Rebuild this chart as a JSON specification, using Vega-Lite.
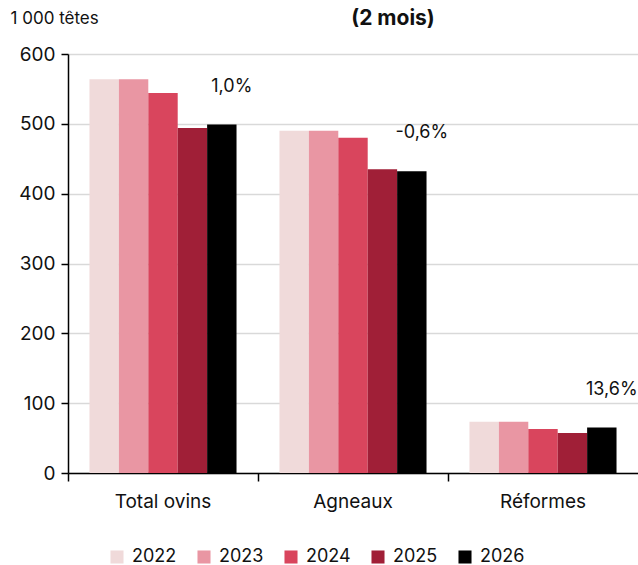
{
  "$schema": "https://vega.github.io/schema/vega-lite/v6.json",
  "width": 570,
  "height": 419,
  "autosize": {"type": "none"},
  "padding": {"left": 68, "top": 54, "right": 0, "bottom": 92},
  "background": "white",
  "config": {
    "font": "Inter",
    "view": {"stroke": null},
    "axis": {"labelFont": "Inter", "titleFont": "Inter"}
  },
  "title": {
    "text": "(2 mois)",
    "font": "Inter",
    "fontSize": 21,
    "fontWeight": "bold",
    "color": "#111111",
    "anchor": "middle",
    "dx": 40,
    "offset": -20
  },
  "data": {
    "values": [
      {"cat": "Total ovins", "year": "2022", "value": 564},
      {"cat": "Total ovins", "year": "2023", "value": 564},
      {"cat": "Total ovins", "year": "2024", "value": 544},
      {"cat": "Total ovins", "year": "2025", "value": 494},
      {"cat": "Total ovins", "year": "2026", "value": 499, "change": "1,0%"},
      {"cat": "Agneaux", "year": "2022", "value": 490},
      {"cat": "Agneaux", "year": "2023", "value": 490},
      {"cat": "Agneaux", "year": "2024", "value": 480},
      {"cat": "Agneaux", "year": "2025", "value": 435},
      {"cat": "Agneaux", "year": "2026", "value": 432, "change": "-0,6%"},
      {"cat": "Réformes", "year": "2022", "value": 73.5},
      {"cat": "Réformes", "year": "2023", "value": 73.5},
      {"cat": "Réformes", "year": "2024", "value": 63},
      {"cat": "Réformes", "year": "2025", "value": 57.3},
      {"cat": "Réformes", "year": "2026", "value": 65, "change": "13,6%"}
    ]
  },
  "encoding": {
    "x": {
      "field": "cat",
      "type": "nominal",
      "sort": ["Total ovins", "Agneaux", "Réformes"],
      "scale": {"paddingInner": 0, "paddingOuter": 0},
      "axis": {
        "title": null,
        "labelAngle": 0,
        "labelFontSize": 19,
        "labelColor": "#111111",
        "labelPadding": 11,
        "bandPosition": 0,
        "tickSize": 8,
        "tickColor": "#000000",
        "domainColor": "#000000",
        "domainWidth": 1.5,
        "tickWidth": 1.5
      }
    },
    "xOffset": {
      "field": "year",
      "type": "nominal",
      "scale": {"paddingInner": 0, "paddingOuter": 0.73}
    },
    "y": {
      "field": "value",
      "type": "quantitative",
      "scale": {"domain": [0, 600]},
      "axis": {
        "values": [0, 100, 200, 300, 400, 500, 600],
        "title": "1 000 têtes",
        "titleAngle": 0,
        "titleX": -58,
        "titleY": -36,
        "titleAlign": "left",
        "titleBaseline": "middle",
        "titleFontSize": 17,
        "titleFontWeight": "normal",
        "titleColor": "#111111",
        "labelFontSize": 19,
        "labelColor": "#111111",
        "labelPadding": 6,
        "tickSize": 7,
        "tickColor": "#000000",
        "tickWidth": 1.5,
        "domainColor": "#000000",
        "domainWidth": 1.5,
        "grid": true,
        "gridColor": "#d9d9d9",
        "gridWidth": 1.5
      }
    }
  },
  "layer": [
    {
      "mark": {"type": "bar"},
      "encoding": {
        "color": {
          "field": "year",
          "type": "nominal",
          "scale": {
            "domain": ["2022", "2023", "2024", "2025", "2026"],
            "range": ["#f0dada", "#e996a3", "#d9455d", "#a01f37", "#000000"]
          },
          "legend": {
            "title": null,
            "orient": "none",
            "direction": "horizontal",
            "legendX": 40,
            "legendY": 494,
            "symbolType": "square",
            "symbolSize": 170,
            "symbolStrokeWidth": 0,
            "labelFontSize": 18,
            "labelColor": "#111111",
            "labelFont": "Inter",
            "columnPadding": 18,
            "labelOffset": 6
          }
        }
      }
    },
    {
      "transform": [{"filter": "isValid(datum.change)"}],
      "mark": {"type": "text", "font": "Inter", "fontSize": 18, "color": "#111111", "dy": -38, "dx": 10, "baseline": "middle", "align": "center"},
      "encoding": {"text": {"field": "change"}}
    }
  ]
}
